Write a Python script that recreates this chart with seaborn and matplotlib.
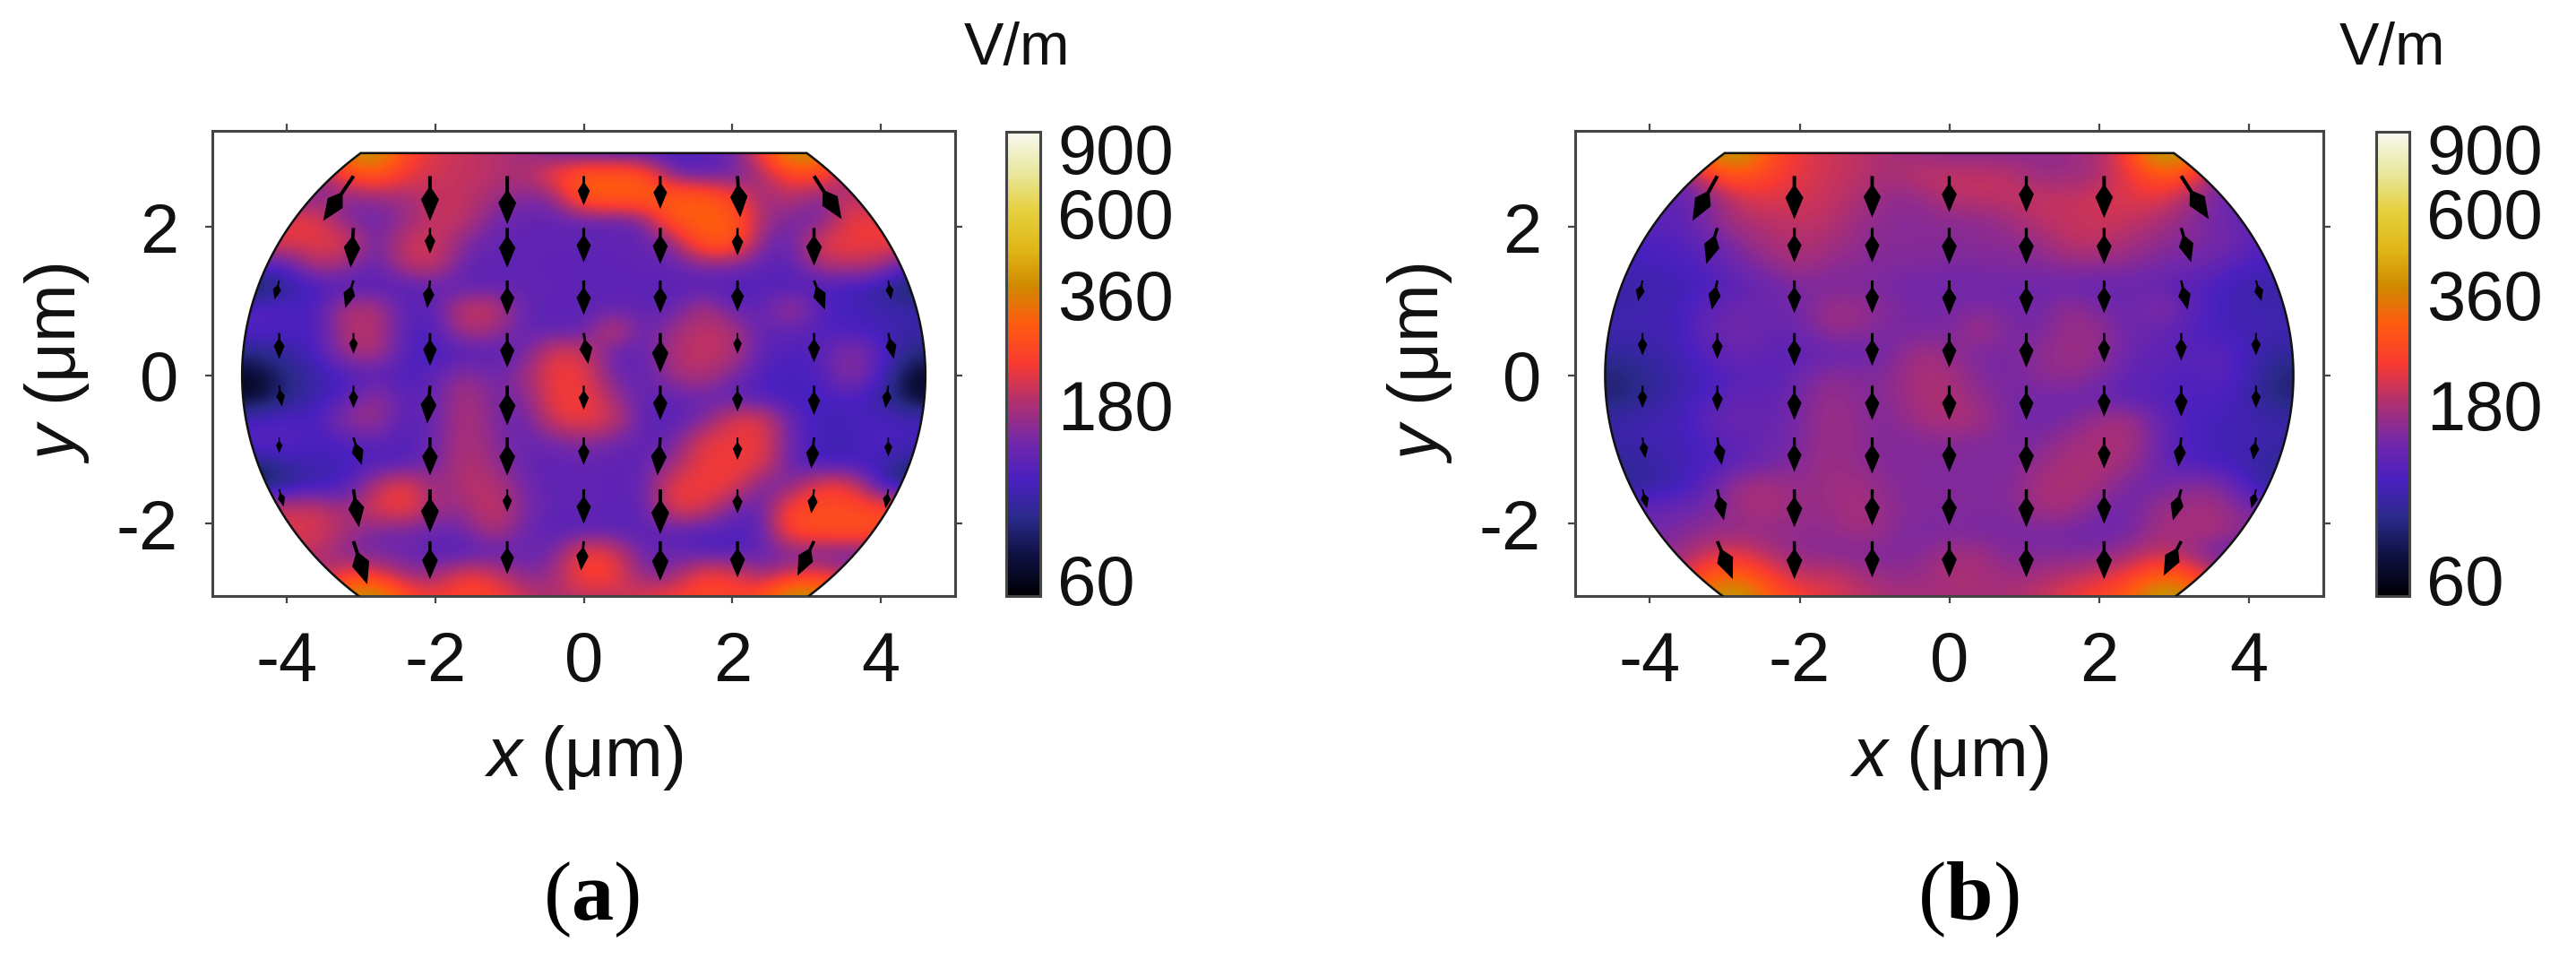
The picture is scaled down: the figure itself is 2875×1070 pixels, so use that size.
import numpy as np
import matplotlib
matplotlib.use('Agg')
import matplotlib.pyplot as plt
from matplotlib.colors import LogNorm
from matplotlib.patches import Polygon
import seaborn as sns

# grid the field values were read on (um)
field_x = [-4.8, -4.4, -4.0, -3.6, -3.2, -2.8, -2.4, -2.0, -1.6, -1.2, -0.8, -0.4, 0.0,
           0.4, 0.8, 1.2, 1.6, 2.0, 2.4, 2.8, 3.2, 3.6, 4.0, 4.4, 4.8]
field_y = [3.0, 2.7, 2.4, 2.1, 1.8, 1.5, 1.2, 0.9, 0.6, 0.3, 0.0, -0.3, -0.6, -0.9,
           -1.2, -1.5, -1.8, -2.1, -2.4, -2.7, -3.0]

# field magnitude in V/m, one row per field_y
field_a = [
    [130,130,130,170,380,430,250,210,195,185,170,135,118,112,112,112,118,140,220,420,380,170,130,130,130],
    [130,130,130,150,240,280,225,200,195,190,175,240,295,295,280,135,125,130,175,245,250,150,130,130,130],
    [130,130,130,160,155,160,170,195,195,170,150,150,300,305,310,305,300,250,160,195,140,215,130,130,130],
    [220,220,220,220,145,135,160,200,195,140,130,128,128,128,135,295,305,300,170,145,135,225,225,225,225],
    [220,220,220,220,220,130,200,205,150,130,128,128,128,128,130,150,295,295,145,130,220,230,230,230,230],
    [115,115,120,190,170,125,195,205,130,128,128,125,125,125,128,130,150,150,125,125,185,195,180,112,112],
    [68,68,90,108,112,118,118,130,120,125,128,128,125,125,125,120,118,112,118,112,110,105,90,70,70],
    [118,118,118,110,185,185,120,125,205,200,128,125,125,128,128,125,185,130,125,185,118,110,105,100,100],
    [118,118,115,110,185,190,120,112,185,170,128,125,125,215,125,170,195,185,125,130,115,110,105,100,100],
    [85,85,98,108,170,185,115,108,115,120,135,220,205,125,125,185,195,190,122,115,120,165,120,85,85],
    [62,62,85,100,110,120,112,125,165,135,165,230,225,140,125,170,190,150,115,110,115,165,108,62,62],
    [62,62,85,102,118,170,118,135,185,145,145,230,235,170,125,128,135,120,110,108,110,115,100,62,62],
    [108,108,118,108,165,172,118,135,185,150,130,210,232,205,125,120,140,215,220,125,105,108,112,108,108],
    [125,125,125,108,115,130,112,138,188,155,130,140,155,140,125,135,220,225,225,130,105,108,118,108,108],
    [80,80,100,105,108,112,118,145,188,165,132,125,130,125,128,165,228,230,220,125,105,105,105,85,85],
    [65,65,85,100,108,190,235,155,190,190,140,125,130,125,125,228,232,225,135,150,235,225,100,70,70],
    [200,200,200,205,165,215,240,165,165,205,150,125,130,125,125,220,215,140,125,260,265,265,250,250,250],
    [210,210,210,210,180,140,140,132,140,190,135,120,122,122,122,125,115,115,118,265,275,280,275,275,275],
    [195,195,195,195,145,140,140,118,112,125,130,140,240,215,130,135,115,115,130,140,130,130,130,130,130],
    [130,130,130,160,230,220,160,165,228,205,150,165,250,240,150,155,240,225,160,200,230,180,130,130,130],
    [130,130,130,200,400,430,270,230,260,250,200,180,185,185,220,240,260,250,270,430,400,200,130,130,130],
]
field_b = [
    [130,130,130,170,380,440,270,220,200,190,175,165,155,155,155,160,165,180,235,450,400,170,130,130,130],
    [130,130,130,140,235,280,245,215,200,190,175,195,195,195,190,165,165,175,220,285,245,140,130,130,130],
    [125,125,125,125,145,205,215,205,195,180,160,160,190,192,195,195,195,205,212,220,175,142,125,125,125],
    [125,125,125,125,155,180,190,195,190,165,155,155,155,158,170,192,195,200,198,178,155,140,125,125,125],
    [115,115,115,118,130,158,178,185,175,160,155,155,155,155,158,165,192,195,175,160,152,145,130,115,115],
    [108,108,108,112,122,138,160,175,160,155,150,150,148,148,150,152,160,160,155,145,140,130,112,108,108],
    [100,100,102,105,112,125,135,148,145,148,145,140,140,140,140,138,135,130,135,128,120,110,102,100,100],
    [102,102,104,108,128,138,135,142,172,168,150,145,145,148,145,140,165,145,135,160,125,110,104,102,102],
    [104,104,104,108,132,140,132,135,165,158,145,145,145,178,145,145,168,165,135,132,118,110,104,104,104],
    [95,95,100,106,122,138,126,124,130,135,145,175,160,145,145,160,168,165,135,128,120,125,108,95,95],
    [82,82,92,102,110,122,120,135,160,148,155,180,178,150,145,155,165,150,128,122,116,126,104,82,82],
    [82,82,94,104,114,132,126,145,168,155,155,180,182,160,145,142,140,132,122,118,115,115,102,82,82],
    [100,100,105,106,130,138,128,148,170,158,150,172,180,175,145,140,145,170,175,132,112,108,104,100,100],
    [100,100,104,106,115,128,134,148,170,158,150,152,155,150,148,148,170,178,178,136,112,108,104,100,100],
    [92,92,100,105,112,128,140,155,170,160,152,150,150,150,148,165,178,180,170,132,115,108,102,92,92],
    [88,88,96,104,130,172,178,160,170,172,155,150,150,150,150,178,180,175,140,140,158,155,108,88,88],
    [130,130,130,135,145,172,180,165,165,178,160,150,155,150,150,175,175,145,138,168,172,172,145,140,140],
    [135,135,140,150,162,160,160,160,160,175,158,145,145,145,145,145,140,138,140,172,178,178,155,145,145],
    [150,150,155,165,195,215,175,160,150,150,150,150,175,170,150,150,150,150,168,195,158,135,125,125,125],
    [150,150,150,195,285,295,235,185,200,175,160,165,180,180,165,175,185,200,225,295,265,172,150,150,150],
    [150,150,150,200,400,450,295,245,215,195,180,175,175,175,180,195,225,255,305,450,400,200,150,150,150],
]

# arrow tails (um)
arrow_x = [-4.1, -3.1, -2.07, -1.03, 0.0, 1.03, 2.07, 3.1, 4.1]
arrow_y = [2.69, 1.99, 1.28, 0.57, -0.14, -0.84, -1.54, -2.24]

nan = np.nan
a_drop = [
    [nan,130,130,140,85,95,120,125,nan],
    [nan,115,75,115,100,105,80,110,nan],
    [55,80,80,100,100,95,90,85,55],
    [75,60,95,100,90,115,60,85,75],
    [60,65,110,115,70,100,75,85,65],
    [45,80,110,110,80,110,65,90,55],
    [50,110,125,65,100,130,70,70,55],
    [nan,125,110,95,85,115,105,100,nan],
]
a_side = [
    [0,-88,0,0,0,0,8,80,0],
    [0,-8,0,0,0,0,0,0,0],
    [-13,-24,-8,0,0,0,0,32,8],
    [0,0,0,0,13,0,0,0,16],
    [8,0,-8,0,0,0,0,0,-8],
    [0,24,0,0,0,-8,0,-8,0],
    [13,16,0,0,0,0,0,-8,-8],
    [0,40,0,0,-8,0,0,-48,0],
]
b_drop = [
    [nan,130,125,120,105,105,122,125,nan],
    [nan,105,100,100,105,105,105,100,nan],
    [60,85,95,95,100,100,95,85,60],
    [65,75,95,95,100,100,85,80,65],
    [65,75,100,100,100,100,90,90,65],
    [60,80,100,105,100,105,90,85,65],
    [55,90,110,105,105,110,100,90,55],
    [nan,110,110,105,105,105,110,100,nan],
]
b_side = [
    [0,-72,0,0,0,0,0,80,0],
    [0,-32,0,0,0,0,0,29,0],
    [-13,-16,0,0,0,0,0,19,16],
    [0,0,0,0,0,0,0,0,0],
    [0,0,0,0,0,0,0,0,0],
    [8,13,0,0,0,0,0,-8,-8],
    [13,19,0,0,0,0,0,-24,-13],
    [0,45,0,0,0,0,0,-51,0],
]

cbar_ticks = [60, 180, 360, 600, 900]
x_ticks = [-4, -2, 0, 2, 4]
y_ticks = [-2, 0, 2]

sns.set_theme(style='ticks')
plt.rcParams['font.family'] = ['Liberation Sans', 'DejaVu Sans']
plt.rcParams['axes.unicode_minus'] = False
plt.rcParams['mathtext.fontset'] = 'custom'
plt.rcParams['mathtext.it'] = 'Liberation Sans:italic'
plt.rcParams['mathtext.rm'] = 'Liberation Serif'
plt.rcParams['mathtext.bf'] = 'Liberation Serif:bold'

W, H = 2875, 1070
fig = plt.figure(figsize=(W / 100, H / 100), dpi=100, facecolor='white')
spine_col = '#444444'
fs = 56


def px_axes(left, top, right, bottom):
    return fig.add_axes([left / W, 1 - bottom / H, (right - left) / W, (bottom - top) / H])


# colour scale, bottom to top of the bar
cmap = sns.blend_palette(['#000005', '#0e1040', '#2a2a8a', '#4a20c0', '#7428a8', '#b03070', '#f83a32',
                          '#ff5a10', '#d08800', '#e0b818', '#e6d040', '#e8e8a0', '#f8f8f0'], as_cmap=True)
norm = LogNorm(vmin=54, vmax=1000)

# chamber outline: ellipse cut flat at y = +-3
theta = np.linspace(-np.arcsin(3 / 3.96), np.arcsin(3 / 3.96), 80)
right_arc = np.column_stack([4.6 * np.cos(theta), 3.96 * np.sin(theta)])
left_arc = right_arc[::-1] * [-1, 1]
outline = np.vstack([right_arc, left_arc])


def draw_panel(ax, field, drop, side):
    dx = field_x[1] - field_x[0]
    dy = field_y[0] - field_y[1]
    im = ax.imshow(field, cmap=cmap, norm=norm, aspect='auto', interpolation='bicubic', origin='upper',
                   extent=[field_x[0] - dx / 2, field_x[-1] + dx / 2, field_y[-1] - dy / 2, field_y[0] + dy / 2])
    shape = Polygon(outline, closed=True, fill=False, edgecolor='#111111', lw=1.8, zorder=3)
    ax.add_patch(shape)
    im.set_clip_path(shape)

    xx, yy = np.meshgrid(arrow_x, arrow_y)
    d = np.array(drop, dtype=float)
    s = np.array(side, dtype=float)
    keep = ~np.isnan(d)
    ax.quiver(xx[keep], yy[keep], s[keep], -d[keep], color='black', pivot='tail', angles='uv',
              units='dots', scale_units='dots', scale=2.6, width=4, headwidth=5,
              headlength=6, headaxislength=9, minshaft=2.0, minlength=0, zorder=4)

    ax.set_xlim(-5, 5)
    ax.set_ylim(-2.98, 3.3)
    ax.set_xticks(x_ticks)
    ax.set_yticks(y_ticks)
    ax.tick_params(direction='out', length=5.5, width=1.6, color=spine_col, top=True, right=True,
                   labelsize=fs, labelcolor='#111111')
    ax.tick_params(axis='x', pad=22)
    ax.tick_params(axis='y', pad=22)
    for sp in ax.spines.values():
        sp.set_color(spine_col)
        sp.set_linewidth(2.2)
    ax.set_xlabel(r'$\mathit{x}$ (μm)', fontsize=fs, color='#111111', labelpad=22)
    ax.set_ylabel(r'$\mathit{y}$ (μm)', fontsize=fs, color='#111111', labelpad=20)
    return im


def draw_cbar(im, left, top, right, bottom):
    cax = px_axes(left, top, right, bottom)
    cb = fig.colorbar(im, cax=cax)
    cb.set_ticks(cbar_ticks)
    cb.set_ticklabels([str(t) for t in cbar_ticks])
    cb.ax.minorticks_off()
    cb.ax.tick_params(which='major', direction='in', length=3.5, width=1.6, color='#333333', left=True, right=True,
                      labelsize=fs, labelcolor='#111111', pad=14)
    tick60 = cb.ax.yaxis.get_major_ticks()[0]
    tick60.tick1line.set_visible(False)
    tick60.tick2line.set_visible(False)
    cb.outline.set_edgecolor(spine_col)
    cb.outline.set_linewidth(2.2)


ax_a = px_axes(237, 146, 1066, 665)
ax_b = px_axes(1758, 146, 2593, 665)
im_a = draw_panel(ax_a, field_a, a_drop, a_side)
im_b = draw_panel(ax_b, field_b, b_drop, b_side)
draw_cbar(im_a, 1123, 147, 1161, 665)
draw_cbar(im_b, 2652, 147, 2689, 665)

fig.text(1135 / W, 1 - 55 / H, 'V/m', fontsize=48, ha='center', va='center', color='#111111')
fig.text(2670 / W, 1 - 55 / H, 'V/m', fontsize=48, ha='center', va='center', color='#111111')
fig.text(660 / W, 1 - 1003 / H, r'$\mathrm{(}\mathbf{a}\mathrm{)}$', fontsize=68, ha='center', va='center', color='black')
fig.text(2197 / W, 1 - 1003 / H, r'$\mathrm{(}\mathbf{b}\mathrm{)}$', fontsize=68, ha='center', va='center', color='black')

fig.savefig('out.png', dpi=100)
